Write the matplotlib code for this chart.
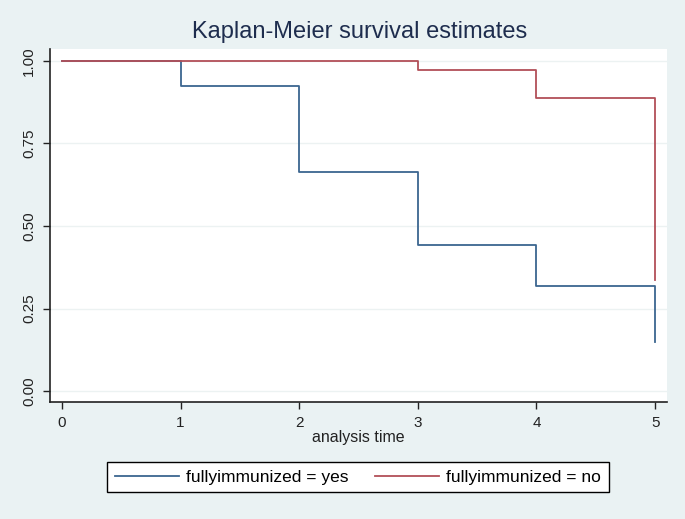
import matplotlib
matplotlib.use("Agg")
import matplotlib.pyplot as plt

plt.rcParams['font.family'] = ['Liberation Sans', 'DejaVu Sans']

# analysis time and Kaplan-Meier survival estimates
times = [0, 1, 2, 3, 4, 5]
surv_yes = [1.0, 0.923, 0.664, 0.442, 0.318, 0.148]
surv_no = [1.0, 1.0, 1.0, 0.973, 0.888, 0.336]
labels = ["fullyimmunized = yes", "fullyimmunized = no"]
yticks = [0.0, 0.25, 0.5, 0.75, 1.0]

bg = "#eaf2f3"
fig = plt.figure(figsize=(6.85, 5.19), dpi=100, facecolor=bg)
ax = fig.add_axes([50 / 685, 1 - 402 / 519, (667 - 50) / 685, (402 - 49) / 519])
ax.set_facecolor("white")

ax.step(times, surv_yes, where="post", color="#3c6690", lw=1.3, label=labels[0])
ax.step(times, surv_no, where="post", color="#b24f58", lw=1.3, label=labels[1])

ax.set_xlim(-0.1, 5.1)
ax.set_ylim(-0.033, 1.036)
ax.set_xticks(times)
ax.set_yticks(yticks)
ax.set_yticklabels(["0.00", "0.25", "0.50", "0.75", "1.00"], rotation=90, va="center")
ax.grid(axis="y", color="#ecf2f2", lw=1)
ax.set_axisbelow(True)

for s in ["top", "right"]:
    ax.spines[s].set_visible(False)
for s in ["left", "bottom"]:
    ax.spines[s].set_color("#222222")
    ax.spines[s].set_linewidth(1.2)
ax.tick_params(direction="out", length=5, width=1, color="#222222", labelsize=11,
               labelcolor="#222222", pad=5)

ax.set_xlabel("analysis time", fontsize=11.5, color="#222222", labelpad=0)
fig.text(360 / 685, 1 - 32 / 519, "Kaplan-Meier survival estimates", ha="center", va="center",
         fontsize=17, color="#1e2d4e")

leg = fig.legend(loc="center", bbox_to_anchor=(358 / 685, 1 - 477 / 519), ncol=2,
                 fancybox=False, edgecolor="black", framealpha=1, fontsize=12.5,
                 handlelength=3.7, handletextpad=0.4, columnspacing=1.5, borderpad=0.45)
leg.get_frame().set_linewidth(1)

fig.savefig("out.png", dpi=100, facecolor=bg)
